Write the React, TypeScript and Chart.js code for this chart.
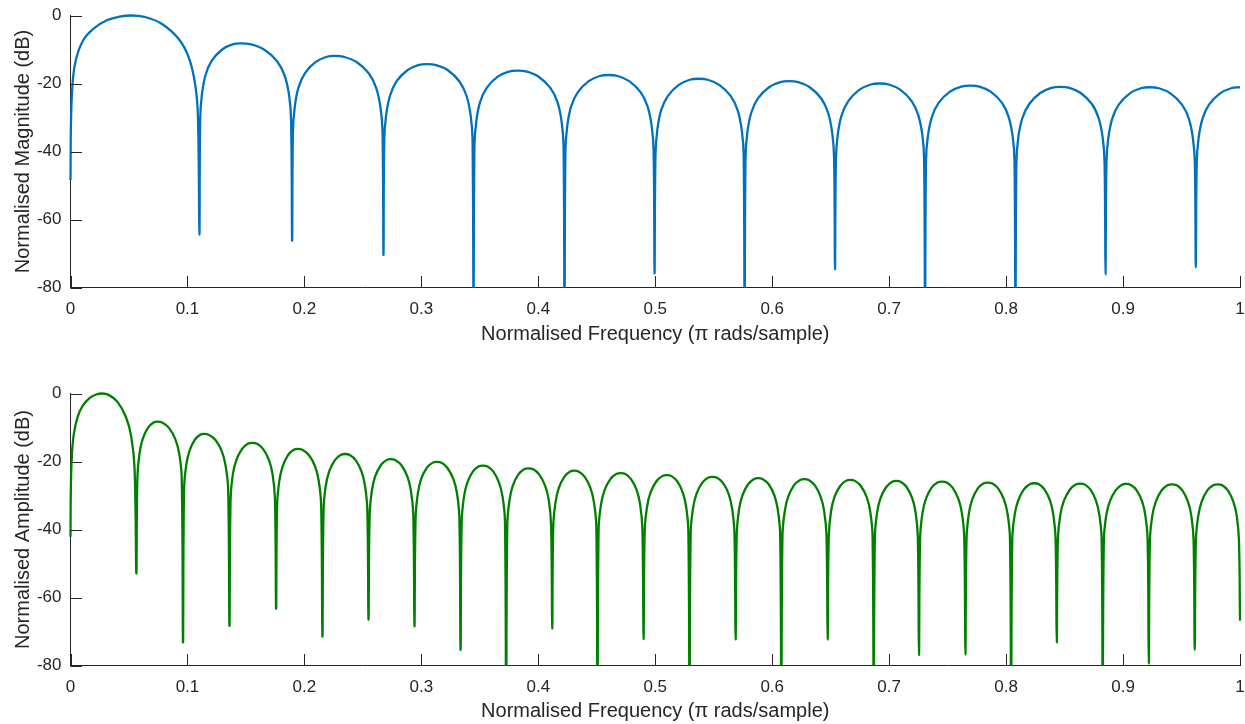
import React, { useEffect, useRef } from 'react';
import { Chart, registerables } from 'chart.js';

Chart.register(...registerables);

// ---------- tick values & labels ----------
const xTickValues = [0, 0.1, 0.2, 0.3, 0.4, 0.5, 0.6, 0.7, 0.8, 0.9, 1];
const xTickLabels = ['0', '0.1', '0.2', '0.3', '0.4', '0.5', '0.6', '0.7', '0.8', '0.9', '1'];
const yTickValues = [-80, -60, -40, -20, 0];
const yTickLabels = ['-80', '-60', '-40', '-20', '0'];

const xTitle = 'Normalised Frequency (\u03c0 rads/sample)';
const topYTitle = 'Normalised Magnitude (dB)';
const bottomYTitle = 'Normalised Amplitude (dB)';

// ---------- top panel: magnitude response ----------
const topFreq = [
  0, 0.0005, 0.002, 0.005, 0.011, 0.02, 0.031, 0.042, 0.0515,
  0.0632, 0.0779, 0.0926, 0.1014, 0.1067, 0.109, 0.1102,
  0.1109, 0.1123, 0.1155, 0.1208, 0.1297, 0.1385, 0.1456, 0.1544, 0.1654, 0.1763, 0.1829, 0.1869, 0.1886, 0.1895,
  0.1902, 0.1917, 0.1949, 0.2004, 0.2094, 0.2185, 0.2257, 0.2341, 0.2446, 0.255, 0.2613, 0.2651, 0.2668, 0.2676,
  0.2683, 0.2698, 0.2732, 0.2787, 0.288, 0.2973, 0.3047, 0.3127, 0.3227, 0.3326, 0.3386, 0.3422, 0.3438, 0.3446,
  0.3454, 0.3469, 0.3502, 0.3559, 0.3653, 0.3747, 0.3822, 0.3902, 0.4003, 0.4103, 0.4164, 0.42, 0.4216, 0.4224,
  0.4232, 0.4247, 0.428, 0.4337, 0.4431, 0.4525, 0.46, 0.4679, 0.4777, 0.4876, 0.4935, 0.497, 0.4986, 0.4994,
  0.5002, 0.5017, 0.505, 0.5107, 0.5201, 0.5295, 0.537, 0.5449, 0.5547, 0.5646, 0.5705, 0.574, 0.5756, 0.5764,
  0.5772, 0.5787, 0.5821, 0.5878, 0.5973, 0.6068, 0.6144, 0.6223, 0.6321, 0.6419, 0.6478, 0.6513, 0.6529, 0.6537,
  0.6545, 0.656, 0.6594, 0.6652, 0.6747, 0.6843, 0.6919, 0.6997, 0.7094, 0.7191, 0.7249, 0.7284, 0.7299, 0.7307,
  0.7315, 0.733, 0.7365, 0.7423, 0.752, 0.7617, 0.7695, 0.7772, 0.7868, 0.7965, 0.8022, 0.8057, 0.8072, 0.808,
  0.8088, 0.8103, 0.8138, 0.8196, 0.8292, 0.8388, 0.8465, 0.8542, 0.8638, 0.8735, 0.8792, 0.8827, 0.8842, 0.885,
  0.8858, 0.8873, 0.8907, 0.8963, 0.9058, 0.9152, 0.9228, 0.9307, 0.9405, 0.9504, 0.9563, 0.9598, 0.9614, 0.9622,
  0.963, 0.9645, 0.9679, 0.9735, 0.983, 0.9924, 1.0,
];
const topMag = [
  -48.4, -30, -19, -12.5, -7.2, -3.8, -1.4, -0.35, 0,
  -0.4, -2.4, -6.9, -12.6, -20.5, -30.1, -64.4,
  -30.5, -23.4, -17.5, -13.3, -10.0, -8.5, -8.2, -8.5, -10.0, -13.3, -17.5, -23.4, -30.5, -66.2,
  -34.2, -27.1, -21.2, -17.0, -13.7, -12.2, -11.9, -12.2, -13.7, -17.0, -21.2, -27.1, -34.2, -70.4,
  -36.6, -29.5, -23.6, -19.4, -16.1, -14.6, -14.3, -14.6, -16.1, -19.4, -23.6, -29.5, -36.6, -95,
  -38.5, -31.4, -25.5, -21.3, -18.0, -16.5, -16.2, -16.5, -18.0, -21.3, -25.5, -31.4, -38.5, -95,
  -39.8, -32.7, -26.8, -22.6, -19.3, -17.8, -17.5, -17.8, -19.3, -22.6, -26.8, -32.7, -39.8, -75.8,
  -40.9, -33.8, -27.9, -23.7, -20.4, -18.9, -18.6, -18.9, -20.4, -23.7, -27.9, -33.8, -40.9, -95,
  -41.6, -34.5, -28.6, -24.4, -21.1, -19.6, -19.3, -19.6, -21.1, -24.4, -28.6, -34.5, -41.6, -74.6,
  -42.3, -35.2, -29.3, -25.1, -21.8, -20.3, -20.0, -20.3, -21.8, -25.1, -29.3, -35.2, -42.3, -95,
  -42.9, -35.8, -29.9, -25.7, -22.4, -20.9, -20.6, -20.9, -22.4, -25.7, -29.9, -35.8, -42.9, -95,
  -43.3, -36.2, -30.3, -26.1, -22.8, -21.3, -21.0, -21.3, -22.8, -26.1, -30.3, -36.2, -43.3, -76.1,
  -43.4, -36.3, -30.4, -26.2, -22.9, -21.4, -21.1, -21.4, -22.9, -26.2, -30.4, -36.3, -43.4, -74.1,
  -43.4, -36.3, -30.4, -26.2, -22.9, -21.4, -21.1,
];

// ---------- bottom panel: amplitude response ----------
const bottomFreq = [
  0, 0.0003, 0.0012, 0.0028, 0.006, 0.0105, 0.0165, 0.022, 0.0267,
  0.0326, 0.04, 0.0474, 0.0519, 0.0548, 0.0563,
  0.0572, 0.059, 0.0617, 0.0662, 0.0707, 0.0743, 0.0787, 0.0842, 0.0896, 0.0929, 0.0951, 0.0962,
  0.0971, 0.0989, 0.1016, 0.1061, 0.1106, 0.1142, 0.1185, 0.124, 0.1294, 0.1326, 0.1348, 0.1359,
  0.1369, 0.1388, 0.1418, 0.1467, 0.1516, 0.1555, 0.1596, 0.1646, 0.1697, 0.1728, 0.1748, 0.1758,
  0.1767, 0.1786, 0.1814, 0.186, 0.1906, 0.1943, 0.1985, 0.2038, 0.2091, 0.2122, 0.2143, 0.2154,
  0.2164, 0.2183, 0.2212, 0.2261, 0.2309, 0.2348, 0.2388, 0.2438, 0.2488, 0.2518, 0.2538, 0.2548,
  0.2558, 0.2577, 0.2605, 0.2653, 0.2701, 0.2739, 0.2779, 0.283, 0.288, 0.2911, 0.2931, 0.2941,
  0.2951, 0.297, 0.2998, 0.3046, 0.3094, 0.3132, 0.3173, 0.3223, 0.3274, 0.3305, 0.3325, 0.3335,
  0.3345, 0.3364, 0.3392, 0.344, 0.3488, 0.3526, 0.3566, 0.3616, 0.3665, 0.3695, 0.3715, 0.3725,
  0.3735, 0.3754, 0.3782, 0.383, 0.3878, 0.3916, 0.3957, 0.4007, 0.4058, 0.4089, 0.4109, 0.4119,
  0.4128, 0.4147, 0.4175, 0.4222, 0.4269, 0.4307, 0.4347, 0.4397, 0.4446, 0.4476, 0.4496, 0.4506,
  0.4516, 0.4536, 0.4566, 0.4616, 0.4666, 0.4706, 0.4745, 0.4793, 0.4842, 0.4871, 0.489, 0.49,
  0.491, 0.493, 0.496, 0.501, 0.506, 0.51, 0.5139, 0.5187, 0.5235, 0.5264, 0.5283, 0.5293,
  0.5303, 0.5323, 0.5352, 0.5401, 0.5451, 0.549, 0.5529, 0.5579, 0.5628, 0.5657, 0.5677, 0.5687,
  0.5697, 0.5716, 0.5745, 0.5794, 0.5842, 0.5881, 0.592, 0.597, 0.6019, 0.6048, 0.6068, 0.6078,
  0.6088, 0.6108, 0.6137, 0.6186, 0.6236, 0.6275, 0.6315, 0.6365, 0.6414, 0.6444, 0.6464, 0.6474,
  0.6484, 0.6503, 0.6532, 0.6581, 0.6629, 0.6668, 0.6708, 0.6758, 0.6808, 0.6838, 0.6858, 0.6868,
  0.6878, 0.6897, 0.6926, 0.6975, 0.7023, 0.7062, 0.7101, 0.7149, 0.7197, 0.7226, 0.7245, 0.7255,
  0.7265, 0.7285, 0.7314, 0.7363, 0.7413, 0.7452, 0.7492, 0.7542, 0.7592, 0.7622, 0.7642, 0.7652,
  0.7662, 0.7681, 0.7709, 0.7757, 0.7805, 0.7843, 0.7883, 0.7933, 0.7983, 0.8013, 0.8033, 0.8043,
  0.8053, 0.8073, 0.8103, 0.8152, 0.8202, 0.8242, 0.828, 0.8328, 0.8376, 0.8404, 0.8423, 0.8433,
  0.8443, 0.8463, 0.8494, 0.8545, 0.8595, 0.8636, 0.8674, 0.8722, 0.8769, 0.8798, 0.8817, 0.8826,
  0.8836, 0.8856, 0.8887, 0.8938, 0.8988, 0.9029, 0.9067, 0.9115, 0.9163, 0.9191, 0.921, 0.922,
  0.923, 0.925, 0.928, 0.933, 0.938, 0.942, 0.9459, 0.9507, 0.9555, 0.9584, 0.9603, 0.9613,
  0.9623, 0.9643, 0.9672, 0.9721, 0.9771, 0.981, 0.9848, 0.9896, 0.9943, 0.9972, 0.9991, 1.0,
];
const bottomAmp = [
  -42.1, -28, -18, -12, -7, -3.6, -1.3, -0.3, 0,
  -0.4, -2.4, -6.9, -12.6, -22.1, -52.9,
  -24.7, -17.6, -13.4, -10.1, -8.6, -8.3, -8.6, -10.1, -13.4, -17.6, -24.7, -73.2,
  -28.3, -21.2, -17.0, -13.7, -12.2, -11.9, -12.2, -13.7, -17.0, -21.2, -28.3, -68.3,
  -30.9, -23.8, -19.6, -16.3, -14.8, -14.5, -14.8, -16.3, -19.6, -23.8, -30.9, -63.3,
  -32.7, -25.6, -21.4, -18.1, -16.6, -16.3, -16.6, -18.1, -21.4, -25.6, -32.7, -71.5,
  -34.2, -27.1, -22.9, -19.6, -18.1, -17.8, -18.1, -19.6, -22.9, -27.1, -34.2, -66.5,
  -35.7, -28.6, -24.4, -21.1, -19.6, -19.3, -19.6, -21.1, -24.4, -28.6, -35.7, -68.5,
  -36.5, -29.4, -25.2, -21.9, -20.4, -20.1, -20.4, -21.9, -25.2, -29.4, -36.5, -75.4,
  -37.6, -30.5, -26.3, -23.0, -21.5, -21.2, -21.5, -23.0, -26.3, -30.5, -37.6, -95,
  -38.4, -31.3, -27.1, -23.8, -22.3, -22.0, -22.3, -23.8, -27.1, -31.3, -38.4, -69.1,
  -39.1, -32.0, -27.8, -24.5, -23.0, -22.7, -23.0, -24.5, -27.8, -32.0, -39.1, -95,
  -39.8, -32.7, -28.5, -25.2, -23.7, -23.4, -23.7, -25.2, -28.5, -32.7, -39.8, -72.2,
  -40.4, -33.3, -29.1, -25.8, -24.3, -24.0, -24.3, -25.8, -29.1, -33.3, -40.4, -95,
  -40.9, -33.8, -29.6, -26.3, -24.8, -24.5, -24.8, -26.3, -29.6, -33.8, -40.9, -72.3,
  -41.3, -34.2, -30.0, -26.7, -25.2, -24.9, -25.2, -26.7, -30.0, -34.2, -41.3, -95,
  -41.6, -34.5, -30.3, -27.0, -25.5, -25.2, -25.5, -27.0, -30.3, -34.5, -41.6, -72.3,
  -41.8, -34.7, -30.5, -27.2, -25.7, -25.4, -25.7, -27.2, -30.5, -34.7, -41.8, -95,
  -42.1, -35.0, -30.8, -27.5, -26.0, -25.7, -26.0, -27.5, -30.8, -35.0, -42.1, -76.9,
  -42.3, -35.2, -31.0, -27.7, -26.2, -25.9, -26.2, -27.7, -31.0, -35.2, -42.3, -76.7,
  -42.6, -35.5, -31.3, -28.0, -26.5, -26.2, -26.5, -28.0, -31.3, -35.5, -42.6, -95,
  -42.8, -35.7, -31.5, -28.2, -26.7, -26.4, -26.7, -28.2, -31.5, -35.7, -42.8, -73.2,
  -42.9, -35.8, -31.6, -28.3, -26.8, -26.5, -26.8, -28.3, -31.6, -35.8, -42.9, -95,
  -43.0, -35.9, -31.7, -28.4, -26.9, -26.6, -26.9, -28.4, -31.7, -35.9, -43.0, -79.4,
  -43.1, -36.0, -31.8, -28.5, -27.0, -26.7, -27.0, -28.5, -31.8, -36.0, -43.1, -75.4,
  -43.1, -36.0, -31.8, -28.5, -27.0, -26.7, -27.0, -28.5, -31.8, -36.0, -43.1, -66.8,
];

const FONT = "'Liberation Sans', Arial, Helvetica, sans-serif";
const AXIS_COLOR = '#262626';
const TICK_LEN = 11.5;

// draws MATLAB-style inward tick marks using the chart's own scales
const inwardTicks = {
  id: 'inwardTicks',
  afterDatasetsDraw(chart: any) {
    const { ctx, chartArea, scales } = chart;
    ctx.save();
    ctx.strokeStyle = AXIS_COLOR;
    ctx.lineWidth = 1;
    ctx.beginPath();
    scales.x.ticks.forEach((t: any) => {
      const px = Math.round(scales.x.getPixelForValue(t.value)) + 0.5;
      ctx.moveTo(px, chartArea.bottom);
      ctx.lineTo(px, chartArea.bottom - TICK_LEN);
    });
    scales.y.ticks.forEach((t: any) => {
      const py = Math.round(scales.y.getPixelForValue(t.value)) + 0.5;
      ctx.moveTo(chartArea.left, py);
      ctx.lineTo(chartArea.left + TICK_LEN, py);
    });
    ctx.stroke();
    ctx.restore();
  },
};

type PanelLayout = { top: number; xh: number; xtp: number; xtitle: number };

function makeConfig(freq: number[], vals: number[], color: string, yTitle: string, p: PanelLayout): any {
  return {
    type: 'line',
    data: {
      datasets: [
        {
          data: freq.map((x, i) => ({ x, y: vals[i] })),
          borderColor: color,
          borderWidth: 2.3,
          pointRadius: 0,
          fill: false,
          tension: 0.4,
          borderJoinStyle: 'bevel',
          clip: { left: 5, top: 5, right: 5, bottom: 0 },
        },
      ],
    },
    options: {
      animation: false,
      responsive: false,
      devicePixelRatio: 1,
      events: [],
      layout: { padding: { left: 0, right: 5, top: p.top, bottom: 0 } },
      plugins: { legend: { display: false }, tooltip: { enabled: false } },
      scales: {
        x: {
          type: 'linear',
          position: 'bottom',
          min: 0,
          max: 1,
          grid: { display: false, drawTicks: false },
          border: { display: true, color: AXIS_COLOR, width: 1 },
          afterBuildTicks: (s: any) => {
            s.ticks = xTickValues.map((v) => ({ value: v }));
          },
          afterFit: (s: any) => {
            s.height = p.xh;
            s.paddingLeft = 0;
            s.paddingRight = 0;
          },
          ticks: {
            autoSkip: false,
            maxRotation: 0,
            minRotation: 0,
            padding: p.xtp,
            color: AXIS_COLOR,
            font: { family: FONT, size: 17 },
            callback: (_v: any, i: number) => xTickLabels[i],
          },
          title: {
            display: true,
            text: xTitle,
            color: AXIS_COLOR,
            font: { family: FONT, size: 20 },
            padding: { top: 0, bottom: p.xtitle },
          },
        },
        y: {
          type: 'linear',
          position: 'left',
          min: -80,
          max: 0,
          grid: { display: false, drawTicks: false },
          border: { display: true, color: AXIS_COLOR, width: 1 },
          afterBuildTicks: (s: any) => {
            s.ticks = yTickValues.map((v) => ({ value: v }));
          },
          afterFit: (s: any) => {
            s.width = 70.5;
            s.paddingTop = 0;
            s.paddingBottom = 0;
          },
          ticks: {
            autoSkip: false,
            padding: 9,
            color: AXIS_COLOR,
            font: { family: FONT, size: 17 },
            callback: (_v: any, i: number) => yTickLabels[i],
          },
          title: {
            display: true,
            text: yTitle,
            color: AXIS_COLOR,
            font: { family: FONT, size: 20 },
            padding: { top: 11, bottom: 0 },
          },
        },
      },
    },
    plugins: [inwardTicks],
  };
}

function Panel(props: { freq: number[]; vals: number[]; color: string; yTitle: string; layout: PanelLayout; top: number }) {
  const ref = useRef<HTMLCanvasElement | null>(null);
  useEffect(() => {
    if (!ref.current) return;
    const chart = new Chart(ref.current, makeConfig(props.freq, props.vals, props.color, props.yTitle, props.layout));
    return () => chart.destroy();
  }, []);
  return (
    <canvas
      ref={ref}
      width={1245}
      height={362}
      style={{ position: 'absolute', left: 0, top: props.top, width: 1245, height: 362, display: 'block' }}
    />
  );
}

export default function App() {
  return (
    <div style={{ position: 'absolute', left: 0, top: 0, width: 1245, height: 724, background: '#ffffff' }}>
      <Panel
        freq={topFreq}
        vals={topMag}
        color="#0072BD"
        yTitle={topYTitle}
        layout={{ top: 15.5, xh: 74.5, xtp: 11.3, xtitle: 16 }}
        top={0}
      />
      <Panel
        freq={bottomFreq}
        vals={bottomAmp}
        color="#008000"
        yTitle={bottomYTitle}
        layout={{ top: 31.5, xh: 58.5, xtp: 11.3, xtitle: 1 }}
        top={362}
      />
    </div>
  );
}
